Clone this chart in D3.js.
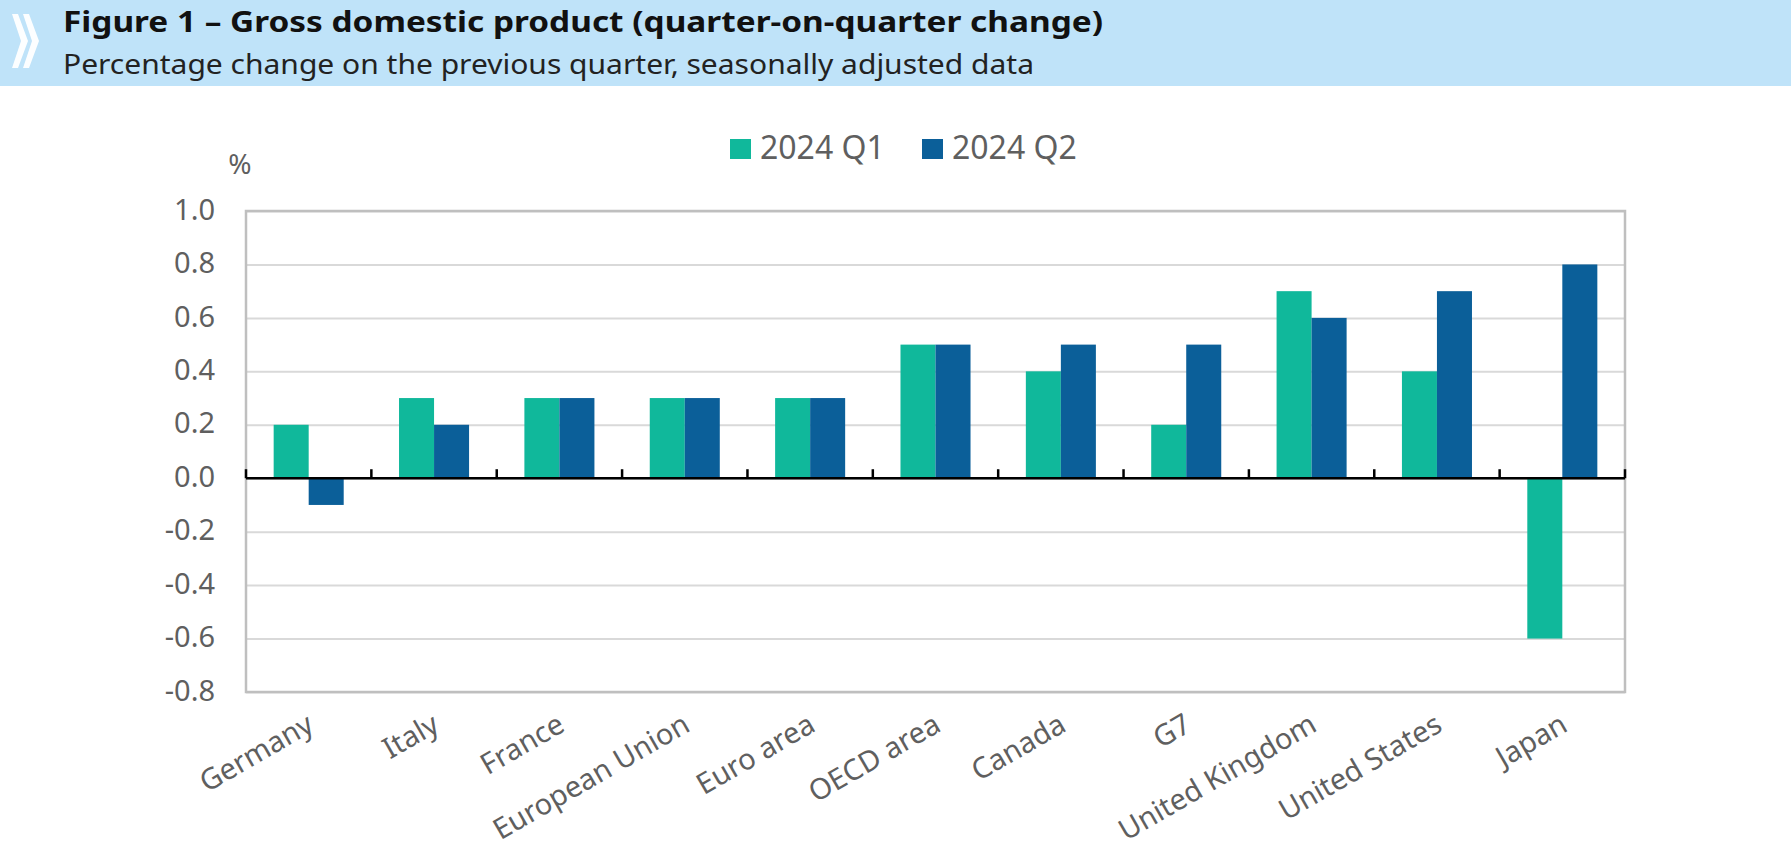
<!DOCTYPE html>
<html>
<head>
<meta charset="utf-8">
<script src="https://cdn.jsdelivr.net/npm/d3@7"></script>
<style>
  html, body { margin: 0; padding: 0; background: #fff; }
  svg { display: block; font-family: "Noto Sans", sans-serif; }
</style>
</head>
<body>
<div id="chart"></div>
<script>
// data
const categories = ['Germany', 'Italy', 'France', 'European Union', 'Euro area',
  'OECD area', 'Canada', 'G7', 'United Kingdom', 'United States', 'Japan'];
const seriesNames = ['2024 Q1', '2024 Q2'];
const q1Values = [0.2, 0.3, 0.3, 0.3, 0.3, 0.5, 0.4, 0.2, 0.7, 0.4, -0.6];
const q2Values = [-0.1, 0.2, 0.3, 0.3, 0.3, 0.5, 0.5, 0.5, 0.6, 0.7, 0.8];
const yTicks = [-0.8, -0.6, -0.4, -0.2, 0.0, 0.2, 0.4, 0.6, 0.8, 1.0];

const titleText = 'Figure 1 \u2013 Gross domestic product (quarter-on-quarter change)';
const subtitleText = 'Percentage change on the previous quarter, seasonally adjusted data';

let width = 1791;
let height = 855;
let plot = { left: 246, right: 1625, top: 211, bottom: 692 };
let colors = { '2024 Q1': '#10b89b', '2024 Q2': '#0b5f99' };

let svg = d3.select('#chart')
  .append('svg')
  .attr('width', width)
  .attr('height', height);

// ****************** header band ***************************
svg.append('rect')
  .attr('x', 0).attr('y', 0)
  .attr('width', width).attr('height', 86)
  .attr('fill', '#bfe3f9');

// the two white chevrons on the left
[0, 11].forEach(function(dx) {
  svg.append('path')
    .attr('d', `M ${12 + dx} 14 L ${18 + dx} 14 L ${28 + dx} 41 L ${18 + dx} 68
                L ${12 + dx} 68 L ${21 + dx} 41 Z`)
    .attr('fill', '#ffffff')
    .attr('opacity', 0.95);
});

svg.append('text')
  .attr('x', 63).attr('y', 32)
  .attr('font-size', 29)
  .attr('font-weight', 'bold')
  .attr('fill', '#111')
  .attr('textLength', 1040)
  .attr('lengthAdjust', 'spacingAndGlyphs')
  .text(titleText);

svg.append('text')
  .attr('x', 63).attr('y', 74)
  .attr('font-size', 27)
  .attr('fill', '#222')
  .attr('textLength', 971)
  .attr('lengthAdjust', 'spacingAndGlyphs')
  .text(subtitleText);

// ****************** scales ***************************
let y = d3.scaleLinear()
  .domain([-0.8, 1.0])
  .range([plot.bottom, plot.top]);

let x0 = d3.scaleBand()
  .domain(categories)
  .range([plot.left, plot.right])
  .padding(0);

let x1 = d3.scaleBand()
  .domain(seriesNames)
  .range([0, x0.bandwidth()])
  .paddingInner(0)
  .paddingOuter(0.79);

// gridlines + tick labels
let yAxis = d3.axisLeft(y)
  .tickValues(yTicks)
  .tickSize(-(plot.right - plot.left))
  .tickPadding(31)
  .tickFormat(d3.format('.1f'));

let yAxisG = svg.append('g')
  .attr('transform', 'translate(' + plot.left + ',0)')
  .call(yAxis);

yAxisG.select('.domain').remove();
yAxisG.selectAll('.tick line')
  .attr('stroke', '#d9d9d9')
  .attr('stroke-width', 2);
yAxisG.selectAll('.tick text')
  .attr('font-size', 29)
  .attr('font-family', '"Noto Sans", sans-serif')
  .attr('fill', '#5f5f5f')
  .attr('dy', '0.28em')
  .text(function(d) { return d3.format('.1f')(d).replace('\u2212', '-'); });

// plot frame
svg.append('rect')
  .attr('x', plot.left).attr('y', plot.top)
  .attr('width', plot.right - plot.left)
  .attr('height', plot.bottom - plot.top)
  .attr('fill', 'none')
  .attr('stroke', '#bfbfbf')
  .attr('stroke-width', 2.5);

svg.append('text')
  .attr('x', 240).attr('y', 174)
  .attr('text-anchor', 'middle')
  .attr('font-size', 28)
  .attr('fill', '#5f5f5f')
  .text('%');

// ****************** bars ***************************
let rows = categories.map(function(c, i) {
  return { name: c, values: [
    { key: '2024 Q1', value: q1Values[i] },
    { key: '2024 Q2', value: q2Values[i] }
  ] };
});

let groups = svg.append('g')
  .selectAll('g.group')
  .data(rows)
  .enter().append('g')
  .attr('class', 'group')
  .attr('transform', function(d) { return 'translate(' + x0(d.name) + ',0)'; });

groups.selectAll('rect')
  .data(function(d) { return d.values; })
  .enter().append('rect')
  .attr('x', function(d) { return x1(d.key); })
  .attr('width', x1.bandwidth())
  .attr('y', function(d) { return y(Math.max(0, d.value)); })
  .attr('height', function(d) { return Math.abs(y(d.value) - y(0)); })
  .attr('fill', function(d) { return colors[d.key]; });

// zero line with category ticks pointing up
let zeroG = svg.append('g');
zeroG.append('line')
  .attr('x1', plot.left).attr('x2', plot.right)
  .attr('y1', y(0)).attr('y2', y(0))
  .attr('stroke', '#000')
  .attr('stroke-width', 2.5);

let boundaries = categories.map(function(c) { return x0(c); }).concat([plot.right]);
zeroG.selectAll('line.cat-tick')
  .data(boundaries)
  .enter().append('line')
  .attr('class', 'cat-tick')
  .attr('x1', function(d) { return d; })
  .attr('x2', function(d) { return d; })
  .attr('y1', y(0))
  .attr('y2', y(0) - 9)
  .attr('stroke', '#000')
  .attr('stroke-width', 2.5);

// category labels, rotated
svg.append('g')
  .selectAll('text')
  .data(categories)
  .enter().append('text')
  .attr('transform', function(d) {
    return 'translate(' + (x0(d) + x0.bandwidth() / 2 + 7) + ',730) rotate(-30)';
  })
  .attr('text-anchor', 'end')
  .attr('font-size', 29)
  .attr('fill', '#5f5f5f')
  .text(function(d) { return d; });

// ****************** legend ***************************
let legendX = [730, 922];
let legend = svg.append('g')
  .selectAll('g')
  .data(seriesNames)
  .enter().append('g')
  .attr('transform', function(d, i) { return 'translate(' + legendX[i] + ',139)'; });

legend.append('rect')
  .attr('width', 21).attr('height', 20)
  .attr('fill', function(d) { return colors[d]; });

legend.append('text')
  .attr('x', 30).attr('y', 20)
  .attr('font-size', 32)
  .attr('fill', '#5f5f5f')
  .text(function(d) { return d; });
</script>
</body>
</html>
